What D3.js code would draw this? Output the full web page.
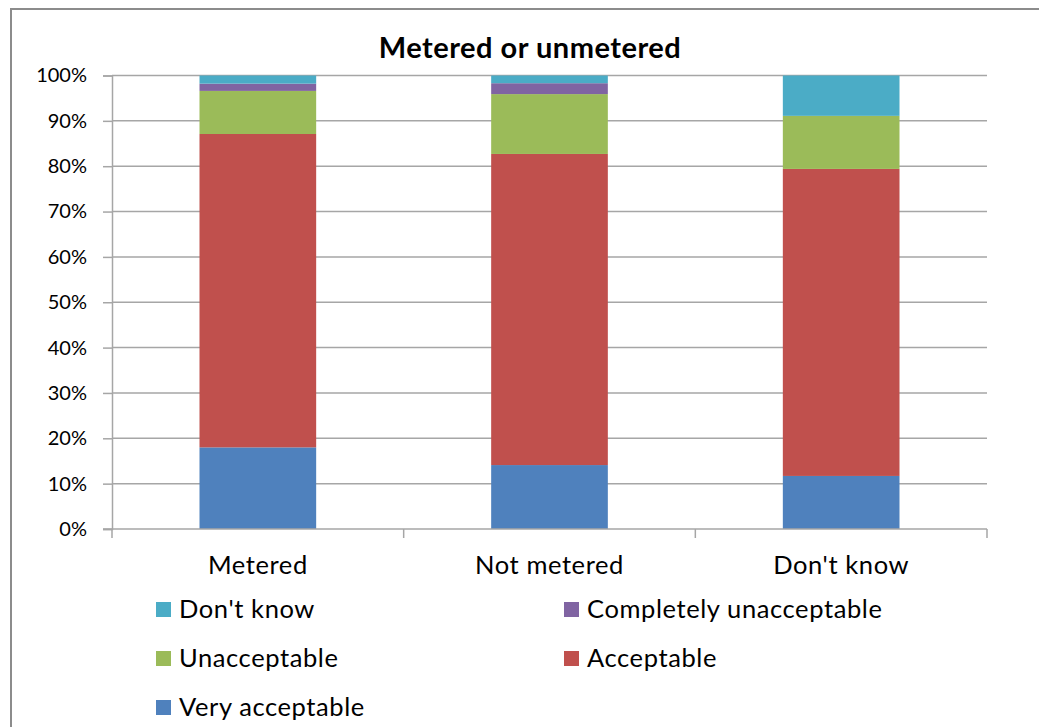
<!DOCTYPE html>
<html>
<head>
<meta charset="utf-8">
<script src="https://cdn.jsdelivr.net/npm/d3@7"></script>
<style>
  html, body { margin: 0; padding: 0; background: #fff; }
  svg { display: block; font-family: Lato, "Open Sans", sans-serif; }
</style>
</head>
<body>
<svg id="chart" width="1039" height="727"></svg>
<script>
// Share of responses per metering status (percent of respondents)
const categories = ["Metered", "Not metered", "Don't know"];
const seriesNames = ["Very acceptable", "Acceptable", "Unacceptable", "Completely unacceptable", "Don't know"];
const veryAcceptable = [18.0, 14.1, 11.7];
const acceptable = [69.1, 68.6, 67.7];
const unacceptable = [9.5, 13.2, 11.7];
const completelyUnacceptable = [1.6, 2.4, 0.0];
const dontKnow = [1.8, 1.7, 8.9];
const yTicks = [0, 10, 20, 30, 40, 50, 60, 70, 80, 90, 100];

const colors = {
  "Very acceptable": "#4F81BD",
  "Acceptable": "#C0504D",
  "Unacceptable": "#9BBB59",
  "Completely unacceptable": "#8064A2",
  "Don't know": "#4BACC6"
};

const seriesValues = [veryAcceptable, acceptable, unacceptable, completelyUnacceptable, dontKnow];
const rows = categories.map((c, i) => {
  const r = { category: c };
  seriesNames.forEach((s, k) => { r[s] = seriesValues[k][i]; });
  return r;
});

const svg = d3.select("#chart");

// outer chart frame
svg.append("rect")
  .attr("x", 11).attr("y", 9)
  .attr("width", 1100).attr("height", 800)
  .attr("fill", "#fff")
  .attr("stroke", "#8c8c8c").attr("stroke-width", 2);

const plot = { left: 112, right: 987, top: 75.5, bottom: 529 };

const x = d3.scaleBand()
  .domain(categories)
  .range([plot.left, plot.right])
  .paddingInner(0.6).paddingOuter(0.3);

const y = d3.scaleLinear().domain([0, 100]).range([plot.bottom, plot.top]);

// title
svg.append("text")
  .attr("x", 530).attr("y", 58)
  .attr("text-anchor", "middle")
  .attr("font-size", 29).attr("font-weight", "bold")
  .attr("letter-spacing", 0.5)
  .attr("fill", "#000")
  .text("Metered or unmetered");

// gridlines
svg.append("g")
  .selectAll("line")
  .data(yTicks.filter(t => t > 0))
  .join("line")
  .attr("x1", plot.left).attr("x2", plot.right)
  .attr("y1", d => y(d)).attr("y2", d => y(d))
  .attr("stroke", "#a6a6a6").attr("stroke-width", 1.5);

// y axis
const yAxis = svg.append("g")
  .attr("transform", `translate(${plot.left},0)`)
  .call(d3.axisLeft(y).tickValues(yTicks).tickFormat(d => d + "%").tickSize(9).tickPadding(16));
yAxis.select(".domain").attr("stroke", "#a6a6a6").attr("stroke-width", 1.5);
yAxis.selectAll(".tick line").attr("stroke", "#a6a6a6").attr("stroke-width", 1.5);
yAxis.selectAll(".tick text")
  .attr("font-family", "Lato, sans-serif")
  .attr("font-size", 20).attr("fill", "#000");

// stacked bars
const stack = d3.stack().keys(seriesNames);
const layers = stack(rows);

svg.append("g")
  .selectAll("g")
  .data(layers)
  .join("g")
  .attr("fill", d => colors[d.key])
  .selectAll("rect")
  .data(d => d)
  .join("rect")
  .attr("x", d => x(d.data.category))
  .attr("width", x.bandwidth())
  .attr("y", d => y(d[1]))
  .attr("height", d => y(d[0]) - y(d[1]));

// x axis with ticks at category boundaries
const xAxisG = svg.append("g");
xAxisG.append("line")
  .attr("x1", plot.left - 9).attr("x2", plot.right)
  .attr("y1", plot.bottom).attr("y2", plot.bottom)
  .attr("stroke", "#a6a6a6").attr("stroke-width", 1.5);
const bounds = d3.range(categories.length + 1).map(i => plot.left + (plot.right - plot.left) * i / categories.length);
xAxisG.selectAll(".b")
  .data(bounds)
  .join("line")
  .attr("x1", d => d).attr("x2", d => d)
  .attr("y1", plot.bottom).attr("y2", plot.bottom + 9)
  .attr("stroke", "#a6a6a6").attr("stroke-width", 1.5);
xAxisG.selectAll("text")
  .data(categories)
  .join("text")
  .attr("x", d => x(d) + x.bandwidth() / 2)
  .attr("y", 574)
  .attr("text-anchor", "middle")
  .attr("font-size", 25.5).attr("letter-spacing", 0.6).attr("fill", "#000")
  .text(d => d);

// legend
const legendOrder = ["Don't know", "Completely unacceptable", "Unacceptable", "Acceptable", "Very acceptable"];
const legend = svg.append("g")
  .selectAll("g")
  .data(legendOrder)
  .join("g")
  .attr("transform", (d, i) => `translate(${i % 2 === 0 ? 156 : 564},${609 + Math.floor(i / 2) * 49})`);
legend.append("rect")
  .attr("x", 0).attr("y", -7)
  .attr("width", 15).attr("height", 15)
  .attr("fill", d => colors[d]);
legend.append("text")
  .attr("x", 23).attr("y", 8.5)
  .attr("font-size", 25.5).attr("letter-spacing", 0.6).attr("fill", "#000")
  .text(d => d);
</script>
</body>
</html>
